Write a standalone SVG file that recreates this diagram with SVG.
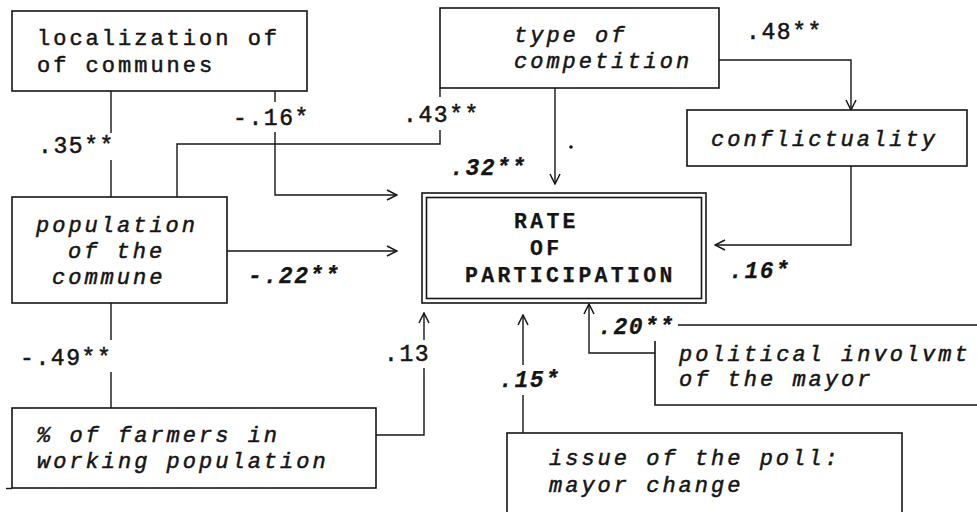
<svg xmlns="http://www.w3.org/2000/svg" width="977" height="512" viewBox="0 0 977 512">
<defs>
<style>
.box{fill:#fff;stroke:#151515;stroke-width:1.6}
.ln{fill:none;stroke:#151515;stroke-width:1.4}
text{font-family:"Liberation Mono","Courier New",monospace;fill:#151515;stroke:#151515;stroke-width:0.5}
.t{font-size:22px;letter-spacing:3px}
.i{font-size:22px;letter-spacing:3px;font-style:italic}
.r{font-size:21.5px;letter-spacing:3.3px;font-weight:bold;stroke-width:0.25}
.lb{font-size:23px;letter-spacing:1.6px}
.lbi{font-size:23px;letter-spacing:1.6px;font-style:italic;font-weight:bold;stroke-width:0.25}
</style>
<marker id="arr" viewBox="0 0 12 12" refX="11" refY="6" markerWidth="12" markerHeight="12" markerUnits="userSpaceOnUse" orient="auto">
<path d="M1,1 L11,6 L1,11" fill="none" stroke="#151515" stroke-width="1.5"/>
</marker>
</defs>
<rect width="977" height="512" fill="#fff"/>

<g id="connectors">
<path class="ln" d="M111,91 V133 M111,160 V197"/>
<text class="lb" x="38" y="153">.35**</text>
<path class="ln" d="M275,91 V102"/>
<path class="ln" d="M275,132 V195 H397" marker-end="url(#arr)"/>
<text class="lb" x="233" y="125">-.16*</text>
<path class="ln" d="M177,197 V144 H440 V130 M440,88 V97"/>
<text class="lb" x="403" y="122">.43**</text>
<path class="ln" d="M555,88 V184" marker-end="url(#arr)"/>
<circle cx="571" cy="147" r="1.8" fill="#151515"/>
<text class="lbi" x="450" y="175">.32**</text>
<path class="ln" d="M719,60 H851 V110" marker-end="url(#arr)"/>
<text class="lb" x="746" y="39">.48**</text>
<path class="ln" d="M851,166 V245 H715" marker-end="url(#arr)"/>
<text class="lbi" x="729" y="278">.16*</text>
<path class="ln" d="M227,251 H397" marker-end="url(#arr)"/>
<text class="lbi" x="248" y="283">-.22**</text>
<path class="ln" d="M111,303 V340 M111,372 V408"/>
<text class="lb" x="20" y="365">-.49**</text>
<path class="ln" d="M376,435 H424 V368"/>
<path class="ln" d="M424,340 V313" marker-end="url(#arr)"/>
<text class="lb" x="384" y="361">.13</text>
<path class="ln" d="M523,433 V395"/>
<path class="ln" d="M523,365 V315" marker-end="url(#arr)"/>
<text class="lbi" x="499" y="387">.15*</text>
<path class="ln" d="M655,353 H589 V304" marker-end="url(#arr)"/>
<text class="lbi" x="598" y="334">.20**</text>
</g>

<g id="localization">
<rect class="box" x="12" y="11" width="295" height="80"/>
<text class="t" x="37" y="45">localization of</text>
<text class="t" x="37" y="72">of communes</text>
</g>

<g id="type">
<rect class="box" x="440" y="8" width="279" height="80"/>
<text class="i" x="514" y="42">type of</text>
<text class="i" x="514" y="68">competition</text>
</g>

<g id="conflictuality">
<rect class="box" x="687" y="110" width="280" height="56"/>
<text class="i" x="711" y="146">conflictuality</text>
</g>

<g id="population">
<rect class="box" x="12" y="197" width="215" height="106"/>
<text class="i" x="36" y="232">population</text>
<text class="i" x="68" y="258">of the</text>
<text class="i" x="52" y="284">commune</text>
</g>

<g id="rate">
<rect class="box" x="422" y="193" width="284" height="110"/>
<rect class="box" x="426.5" y="197.5" width="275" height="101"/>
<text class="r" x="514" y="228">RATE</text>
<text class="r" x="530" y="255">OF</text>
<text class="r" x="465" y="282">PARTICIPATION</text>
</g>

<g id="farmers">
<rect class="box" x="12" y="408" width="364" height="80"/>
<path class="ln" d="M6,488.5 H12"/>
<text class="i" x="37" y="442">% of farmers in</text>
<text class="i" x="37" y="468">working population</text>
</g>

<g id="political">
<path class="box" fill="none" d="M678,325 H980 M655,341 V405 H980"/>
<text class="i" x="679" y="361">political involvmt</text>
<text class="i" x="679" y="386">of the mayor</text>
</g>

<g id="issue">
<rect class="box" x="507" y="433" width="395" height="100"/>
<text class="i" x="549" y="465">issue of the poll:</text>
<text class="i" x="549" y="492">mayor change</text>
</g>
</svg>
